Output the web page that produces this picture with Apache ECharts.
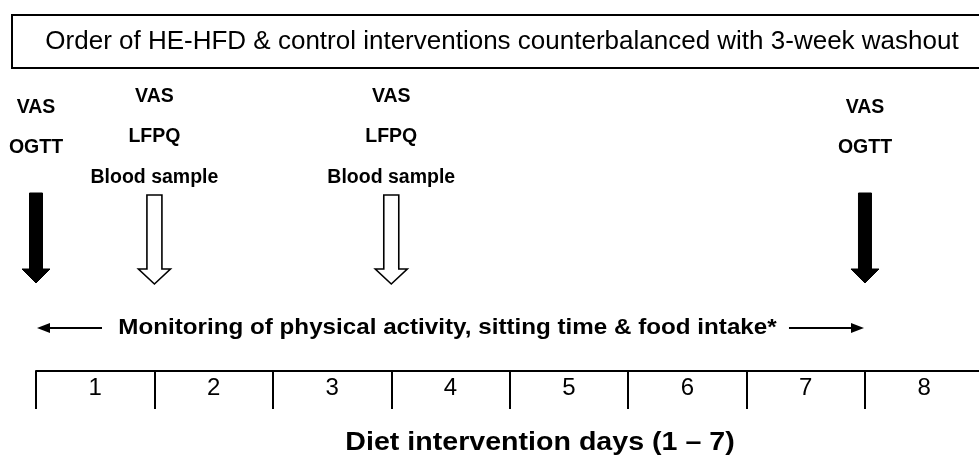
<!DOCTYPE html>
<html><head><meta charset="utf-8">
<script src="https://cdn.jsdelivr.net/npm/echarts@6/dist/echarts.min.js"></script>
<style>html,body{margin:0;padding:0;background:#fff}#c{width:979px;height:470px}</style>
</head><body><div id="c"></div>
<script>
const days = ['1', '2', '3', '4', '5', '6', '7', '8'];
const eventPositions = [0, 1, 3, 7];
const eventTypes = ['filled', 'hollow', 'hollow', 'filled'];
const eventLabels = [['VAS', 'OGTT'], ['VAS', 'LFPQ', 'Blood sample'], ['VAS', 'LFPQ', 'Blood sample'], ['VAS', 'OGTT']];
const monitoringSpan = [0, 7];
const monitoringText = 'Monitoring of physical activity, sitting time & food intake*';
const headerText = 'Order of HE-HFD & control interventions counterbalanced with 3-week washout';
const axisTitle = 'Diet intervention days (1 \u2013 7)';

const FONT = '"Liberation Sans", Arial, Helvetica, sans-serif';
const chart = echarts.init(document.getElementById('c'), null, { renderer: 'canvas' });

function renderEvent(params, api) {
  const idx = params.dataIndex;
  const x = api.coord([api.value(0), 0])[0];
  const filled = eventTypes[idx] === 'filled';
  const labels = eventLabels[idx];
  const top = filled ? 193 : 195, headY = 269, tip = filled ? 283 : 284;
  const sw = filled ? 6.5 : 7.5, hw = filled ? 14 : 16;
  const children = [{
    type: 'polygon',
    shape: { points: [[x - sw, top], [x + sw, top], [x + sw, headY], [x + hw, headY], [x, tip], [x - hw, headY], [x - sw, headY]] },
    style: filled ? { fill: '#000', stroke: '#000', lineWidth: 1 } : { fill: '#fff', stroke: '#000', lineWidth: 1.6 }
  }];
  const ys = filled ? [108, 148] : [97, 137, 178];
  labels.forEach((t, i) => children.push({
    type: 'text', x: x, y: ys[i],
    style: { text: t, fontSize: 19.5, fontWeight: 'bold', fontFamily: FONT, fill: '#000', align: 'center', verticalAlign: 'middle' }
  }));
  return { type: 'group', children };
}

function renderMonitoring(params, api) {
  const x0 = api.coord([api.value(0), 0])[0];
  const x1 = api.coord([api.value(1), 0])[0];
  const y = 328;
  return {
    type: 'group',
    children: [
      { type: 'line', shape: { x1: x0 + 10, y1: y, x2: x0 + 66, y2: y }, style: { stroke: '#000', lineWidth: 2 } },
      { type: 'polygon', shape: { points: [[x0 + 1, y], [x0 + 14, y - 5], [x0 + 14, y + 5]] }, style: { fill: '#000' } },
      { type: 'line', shape: { x1: x1 - 76, y1: y, x2: x1 - 10, y2: y }, style: { stroke: '#000', lineWidth: 2 } },
      { type: 'polygon', shape: { points: [[x1 - 1, y], [x1 - 14, y - 5], [x1 - 14, y + 5]] }, style: { fill: '#000' } },
      { type: 'text', x: (x0 + x1) / 2 - 3, y: y, scaleX: 1.1,
        style: { text: monitoringText, fontSize: 22, fontWeight: 'bold', fontFamily: FONT, fill: '#000', align: 'center', verticalAlign: 'middle' } }
    ]
  };
}

chart.setOption({
  animation: false,
  backgroundColor: '#fff',
  grid: { left: 36, top: 0, bottom: 99, width: 947.4, outerBoundsMode: 'none', containLabel: false },
  xAxis: [
    {
      type: 'category', data: days, position: 'bottom', boundaryGap: true,
      axisLine: { show: true, lineStyle: { color: '#000', width: 2 } },
      axisTick: { show: true, length: 38, lineStyle: { color: '#000', width: 2 } },
      axisLabel: { color: '#000', fontSize: 24, fontFamily: FONT, margin: 5 },
      splitLine: { show: false }
    },
    { type: 'value', min: 0, max: 8, show: false }
  ],
  yAxis: { type: 'value', min: 0, max: 1, show: false },
  graphic: [
    { type: 'rect', shape: { x: 12, y: 15, width: 1010, height: 53 }, style: { fill: 'none', stroke: '#000', lineWidth: 2 } },
    { type: 'text', x: 502, y: 41.5, style: { text: headerText, fontSize: 26, fontFamily: FONT, fill: '#000', align: 'center', verticalAlign: 'middle' } },
    { type: 'text', x: 540, y: 443, scaleX: 1.1, style: { text: axisTitle, fontSize: 26, fontWeight: 'bold', fontFamily: FONT, fill: '#000', align: 'center', verticalAlign: 'middle' } }
  ],
  series: [
    { type: 'custom', xAxisIndex: 1, yAxisIndex: 0, renderItem: renderEvent, data: eventPositions.map(p => [p, 0.5]), silent: true },
    { type: 'custom', xAxisIndex: 1, yAxisIndex: 0, renderItem: renderMonitoring, data: [monitoringSpan], silent: true }
  ]
});
</script>
</body></html>
